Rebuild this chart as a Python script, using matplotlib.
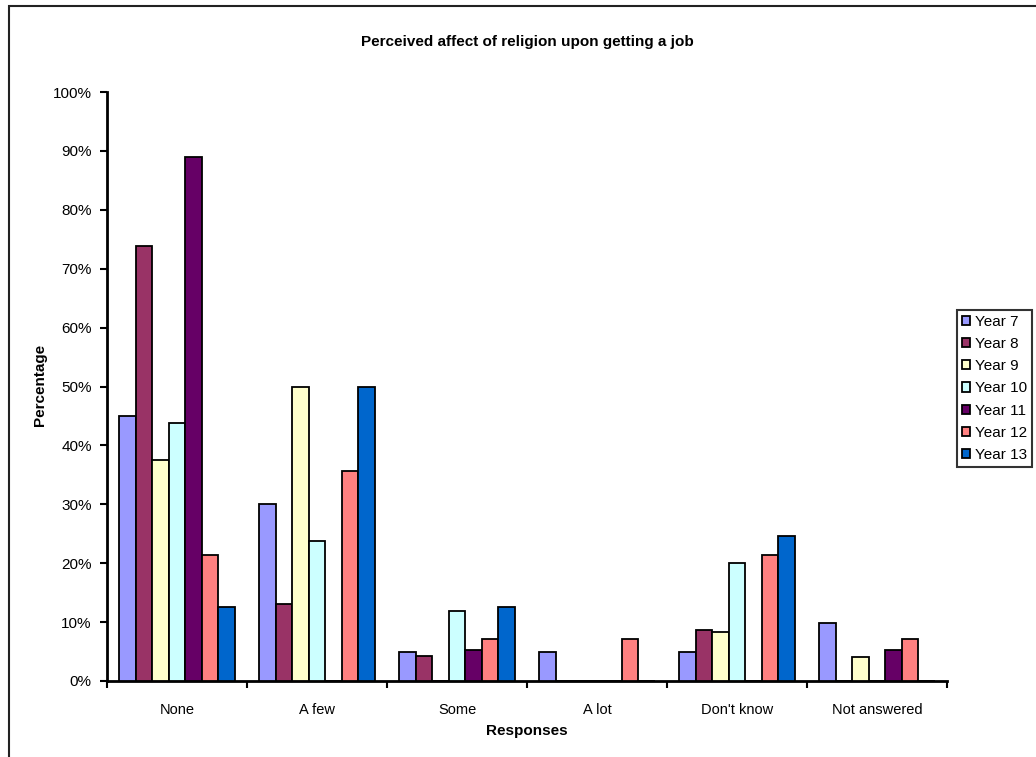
import matplotlib
matplotlib.use("Agg")
import matplotlib.pyplot as plt
import numpy as np
from matplotlib.patches import Rectangle
from matplotlib.ticker import FixedLocator, PercentFormatter

plt.rcParams['font.family'] = ['Liberation Sans', 'DejaVu Sans']

categories = ["None", "A few", "Some", "A lot", "Don't know", "Not answered"]
series_names = ["Year 7", "Year 8", "Year 9", "Year 10", "Year 11", "Year 12", "Year 13"]
year7 = [45.0, 30.0, 5.0, 5.0, 5.0, 9.8]
year8 = [73.9, 13.0, 4.3, 0.0, 8.7, 0.0]
year9 = [37.5, 50.0, 0.0, 0.0, 8.4, 4.0]
year10 = [43.8, 23.8, 11.8, 0.0, 20.0, 0.0]
year11 = [88.9, 0.0, 5.3, 0.0, 0.0, 5.3]
year12 = [21.4, 35.7, 7.1, 7.1, 21.4, 7.1]
year13 = [12.5, 50.0, 12.5, 0.0, 24.7, 0.0]
series = [year7, year8, year9, year10, year11, year12, year13]
colors = ["#9999FF", "#993366", "#FFFFCC", "#CCFFFF", "#660066", "#FF8080", "#0066CC"]

W, H = 1036, 757
fig = plt.figure(figsize=(W / 100, H / 100), dpi=100)
fig.patch.set_facecolor("white")

# chart frame (runs off the right and bottom edges)
fig.patches.append(Rectangle((9 / W, -0.2), 1.5, 1.2 - 6 / H,
                             transform=fig.transFigure, fill=False,
                             edgecolor="#222222", linewidth=1.5))

ax = fig.add_axes([107 / W, 1 - 681 / H, (947 - 107) / W, (681 - 92) / H])

n = len(series)
bar_w = 1.0 / (n + 1.45)
x = np.arange(len(categories))
for i, (vals, c, name) in enumerate(zip(series, colors, series_names)):
    offs = (i - (n - 1) / 2) * bar_w
    ax.bar(x + 0.5 + offs, vals, width=bar_w, color=c, edgecolor="black",
           linewidth=1.3, label=name, zorder=3)

ax.set_xlim(0, len(categories))
ax.set_ylim(0, 100)
ax.yaxis.set_major_locator(FixedLocator(np.arange(0, 101, 10)))
ax.yaxis.set_major_formatter(PercentFormatter(decimals=0))

ax.xaxis.set_major_locator(FixedLocator(np.arange(0, len(categories) + 1)))
ax.xaxis.set_minor_locator(FixedLocator(x + 0.5))
ax.set_xticklabels([], minor=False)
ax.set_xticklabels(categories, minor=True)
ax.tick_params(axis="x", which="major", length=5, width=1.5, direction="out")
ax.tick_params(axis="x", which="minor", length=0, pad=16, labelsize=10.5)
ax.tick_params(axis="y", which="major", length=5, width=1.5, direction="out",
               pad=6, labelsize=11)

for s in ["top", "right"]:
    ax.spines[s].set_visible(False)
for s in ["left", "bottom"]:
    ax.spines[s].set_linewidth(2)
    ax.spines[s].set_color("black")

fig.text(527 / W, 1 - 42 / H, "Perceived affect of religion upon getting a job",
         ha="center", va="center", fontsize=11, fontweight="bold")
fig.text(40 / W, 1 - 385 / H, "Percentage", ha="center", va="center",
         rotation=90, fontsize=11, fontweight="bold")
fig.text(527 / W, 1 - 731 / H, "Responses", ha="center", va="center",
         fontsize=11, fontweight="bold")

leg = fig.legend(loc="upper left", bbox_to_anchor=(957 / W, 1 - 310 / H),
                 frameon=True, fancybox=False, fontsize=11, handlelength=0.55,
                 handleheight=0.55, handletextpad=0.35, labelspacing=0.54,
                 borderpad=0.3, borderaxespad=0, edgecolor="black")
leg.get_frame().set_linewidth(1.5)

fig.savefig("out.png", dpi=100)
